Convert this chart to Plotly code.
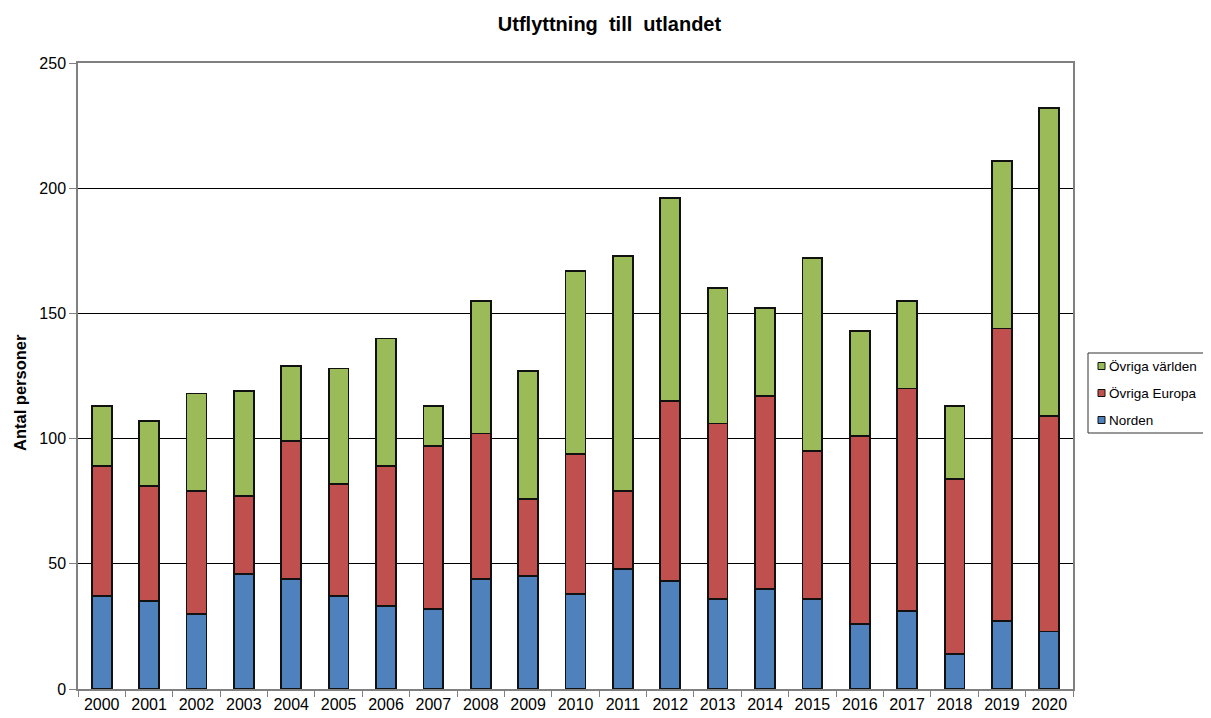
import plotly.graph_objects as go

years = [str(y) for y in range(2000, 2021)]
norden = [37, 35, 30, 46, 44, 37, 33, 32, 44, 45, 38, 48, 43, 36, 40, 36, 26, 31, 14, 27, 23]
ovriga_europa = [52, 46, 49, 31, 55, 45, 56, 65, 58, 31, 56, 31, 72, 70, 77, 59, 75, 89, 70, 117, 86]
ovriga_varlden = [24, 26, 39, 42, 30, 46, 51, 16, 53, 51, 73, 94, 81, 54, 35, 77, 42, 35, 29, 67, 123]

series_names = ["Norden", "Övriga Europa", "Övriga världen"]
series_values = [norden, ovriga_europa, ovriga_varlden]
series_colors = ["#4F81BD", "#C0504D", "#9BBB59"]

W, H = 1203, 710
ML, MR, MT, MB = 70, 138, 55, 21 + 8
PW, PH = W - ML - MR, H - MT - MB


def px_x(x):
    return (x - ML) / PW


def px_y(y):
    return (H - MB - y) / PH


fig = go.Figure()
for name, vals, col in zip(series_names, series_values, series_colors):
    fig.add_trace(go.Bar(
        x=years, y=vals, name=name, showlegend=False,
        marker=dict(color=col, line=dict(color="#111111", width=1.8)),
    ))

# legend drawn as box + swatches + real text (reversed order, like the reference)
shapes = [dict(type="rect", xref="paper", yref="paper",
               x0=px_x(1080), x1=px_x(1215), y0=px_y(425), y1=px_y(345),
               line=dict(color="#333333", width=1), fillcolor="white", layer="above")]
annotations = []
for i, (name, col) in enumerate(zip(series_names[::-1], series_colors[::-1])):
    yc = 358 + 27 * i
    shapes.append(dict(type="rect", xref="paper", yref="paper",
                       x0=px_x(1090), x1=px_x(1097), y0=px_y(yc + 3.5), y1=px_y(yc - 3.5),
                       line=dict(color="#111111", width=1), fillcolor=col, layer="above"))
    annotations.append(dict(text=name, xref="paper", yref="paper", x=px_x(1099), y=px_y(yc),
                            xanchor="left", yanchor="middle", showarrow=False,
                            font=dict(size=13.5)))

# y-axis title
annotations.append(dict(text="<b>Antal personer</b>", xref="paper", yref="paper",
                        x=px_x(12), y=px_y(385), textangle=-90, showarrow=False,
                        xanchor="center", yanchor="middle", font=dict(size=16.5)))

font = "Liberation Sans, Arial, sans-serif"
fig.update_layout(
    barmode="stack",
    bargap=0.58,
    width=W, height=H,
    margin=dict(l=ML, r=MR, t=MT, b=MB, autoexpand=False),
    paper_bgcolor="white", plot_bgcolor="white",
    font=dict(family=font, size=16, color="black"),
    title=dict(text="<b>Utflyttning  till  utlandet</b>", x=0.5, xanchor="center",
               y=1 - 16 / H, yanchor="middle", font=dict(size=20), automargin=False),
    showlegend=False,
    shapes=shapes,
    annotations=annotations,
    xaxis=dict(type="category", showgrid=False, ticks="outside", tickson="boundaries",
               ticklen=6, tickcolor="#808080", showline=True, linecolor="#808080", linewidth=1.5,
               mirror=True, tickfont=dict(size=16), automargin=False),
    yaxis=dict(range=[0, 250], dtick=50, showgrid=True, gridcolor="black", gridwidth=1,
               ticks="outside", ticklen=7, tickcolor="#808080", showline=True,
               linecolor="#808080", linewidth=1.5, mirror=True, zeroline=False,
               tickfont=dict(size=16), automargin=False),
)

fig.write_html("out.html")
